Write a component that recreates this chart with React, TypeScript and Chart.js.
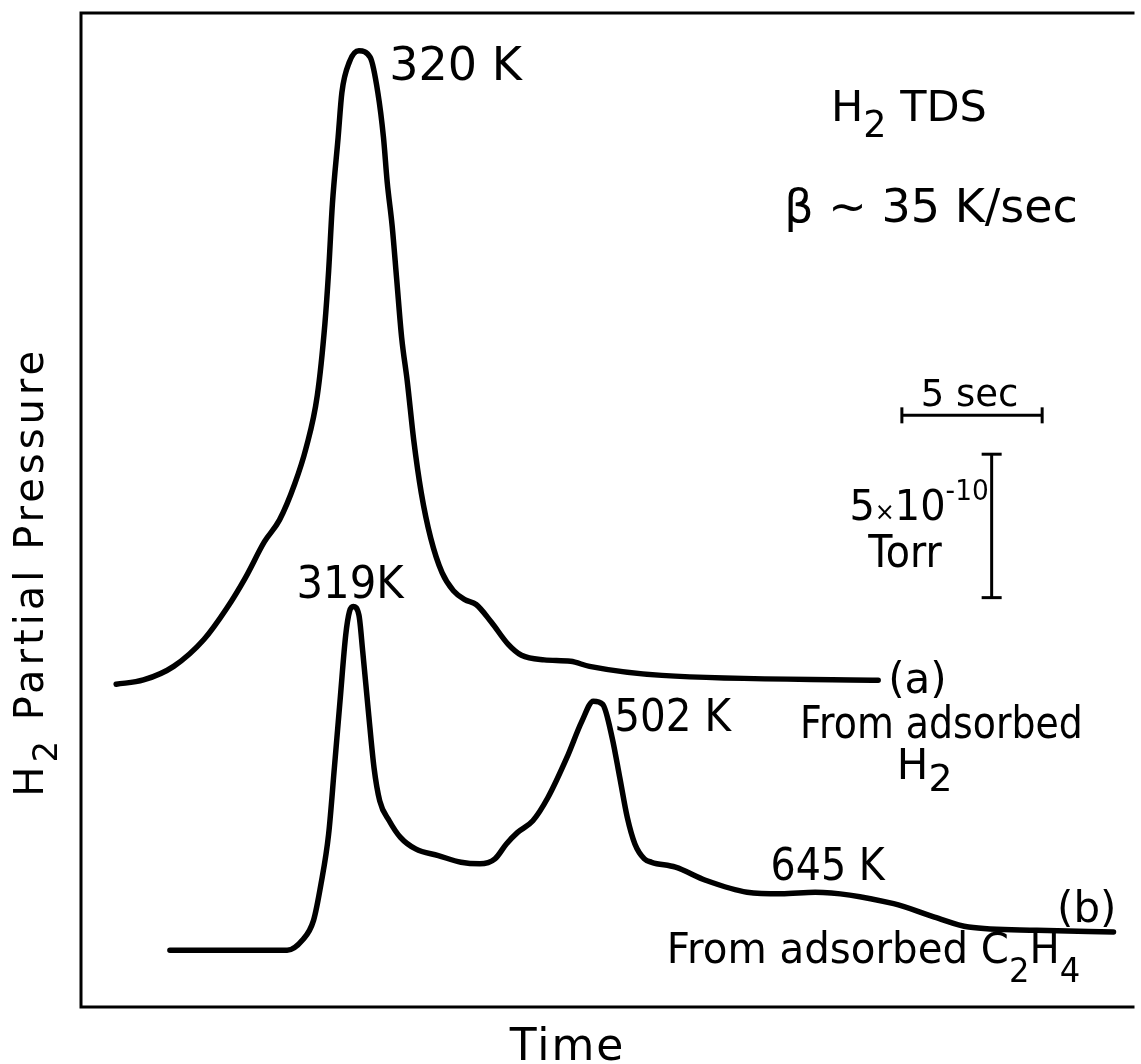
import { useEffect, useRef } from "react";
import { Chart, registerables } from "chart.js";

Chart.register(...registerables);

// Time axis in seconds, pressure in units of 1e-10 Torr
const timeA = [1.254, 2.225, 3.303, 4.38, 5.19, 5.863, 6.539, 7.077, 7.616, 8.021, 8.423, 8.694, 8.827, 8.961, 9.165, 9.299, 9.57, 9.905, 10.31, 10.581, 10.782, 10.915, 11.092, 11.254, 11.43, 11.63, 11.859, 12.13, 12.465, 12.87, 13.275, 13.68, 14.085, 14.623, 15.229, 15.701, 16.511, 17.451, 18.127, 20.704, 28.415];
const pressureA = [11.25, 11.4, 11.875, 12.81, 13.89, 14.97, 16.22, 16.98, 18.23, 19.48, 21.32, 23.82, 25.66, 27.99, 30.31, 31.875, 32.95, 33.33, 33.1, 31.875, 30.31, 28.75, 27.22, 25.35, 23.33, 21.81, 19.77, 17.92, 16.35, 15.14, 14.51, 14.2, 14.03, 13.42, 12.64, 12.26, 12.1, 12.05, 11.875, 11.56, 11.39];

const timeB = [3.169, 7.345, 7.887, 8.289, 8.556, 8.827, 9.032, 9.232, 9.437, 9.57, 9.704, 9.905, 10.042, 10.243, 10.444, 10.648, 10.986, 11.387, 11.926, 12.736, 13.546, 14.218, 14.754, 15.162, 15.563, 16.106, 16.644, 17.317, 17.856, 18.261, 18.599, 18.933, 19.204, 19.472, 19.743, 20.081, 20.342, 21.19, 22.285, 23.743, 24.958, 26.173, 28.968, 30.423, 31.641, 34.07, 36.803];
const pressureB = [1.979, 1.979, 2.326, 3.021, 4.295, 6.031, 8.344, 10.66, 12.976, 13.785, 13.958, 13.67, 12.396, 10.3125, 8.344, 7.1875, 6.493, 5.913, 5.51, 5.278, 5.045, 4.99, 5.163, 5.684, 6.087, 6.493, 7.302, 8.691, 9.965, 10.66, 10.545, 9.385, 7.997, 6.608, 5.684, 5.163, 5.045, 4.872, 4.41, 4.003, 3.948, 4.003, 3.601, 3.135, 2.788, 2.674, 2.615];

// scale bars: 5 sec and 5x10^-10 Torr
const timeBarX = [29.26, 34.26];
const timeBarY = [20.625, 20.625];
const pressureBarX = [32.46, 32.46];
const pressureBarY = [14.27, 19.27];

const xRange = [0, 37.32];
const yRange = [0, 34.65];

type Seg = { t: string; s?: number; dy?: number };
type Label = { x: number; y: number; size: number; segs: Seg[]; sx?: number; ls?: number; rot?: number; align?: "left" | "center" };

const labels: Label[] = [
  { x: 10.99, y: 32.33, size: 46, segs: [{ t: "320 K" }], sx: 1.0 },
  { x: 7.68, y: 14.24, size: 44, segs: [{ t: "319K" }], sx: 0.95 },
  { x: 26.73, y: 30.9, size: 43, segs: [{ t: "H" }, { t: "2", s: 0.85, dy: 0.38 }, { t: " TDS" }] },
  { x: 25.07, y: 27.36, size: 46, segs: [{ t: "β ∼ 35 K/sec" }], sx: 1.0 },
  { x: 29.93, y: 20.94, size: 37, segs: [{ t: "5 sec" }] },
  { x: 27.39, y: 16.98, size: 42, segs: [{ t: "5" }, { t: "×", s: 0.6 }, { t: "10" }, { t: "-10", s: 0.66, dy: -0.48 }], sx: 0.95 },
  { x: 28.06, y: 15.35, size: 44, segs: [{ t: "Torr" }], sx: 0.9 },
  { x: 28.77, y: 10.94, size: 42, segs: [{ t: "(a)" }] },
  { x: 19.01, y: 9.62, size: 44, segs: [{ t: "502 K" }], sx: 0.92 },
  { x: 25.63, y: 9.375, size: 44, segs: [{ t: "From adsorbed" }], sx: 0.86 },
  { x: 29.08, y: 7.95, size: 42, segs: [{ t: "H" }, { t: "2", s: 0.9, dy: 0.28 }] },
  { x: 24.58, y: 4.41, size: 44, segs: [{ t: "645 K" }], sx: 0.9 },
  { x: 34.79, y: 2.95, size: 42, segs: [{ t: "(b)" }] },
  { x: 20.88, y: 1.53, size: 42, segs: [{ t: "From adsorbed " }, { t: "C" }, { t: "2", s: 0.8, dy: 0.45 }, { t: "H" }, { t: "4", s: 0.8, dy: 0.45 }], sx: 0.96 },
  { x: 17.34, y: -1.84, size: 44, segs: [{ t: "Time" }], align: "center", ls: 2 },
  { x: -1.34, y: 15.17, size: 40, segs: [{ t: "H" }, { t: "2", s: 0.85, dy: 0.35 }, { t: " Partial Pressure" }], align: "center", rot: -Math.PI / 2, ls: 4 },
];

const FONT = '"DejaVu Sans"';

const framePlugin = {
  id: "frame",
  beforeDatasetsDraw(chart: any) {
    const { ctx, chartArea } = chart;
    ctx.save();
    ctx.strokeStyle = "#000";
    ctx.lineWidth = 3;
    ctx.lineCap = "square";
    ctx.beginPath();
    ctx.moveTo(chartArea.right + 5, chartArea.top);
    ctx.lineTo(chartArea.left, chartArea.top);
    ctx.lineTo(chartArea.left, chartArea.bottom);
    ctx.lineTo(chartArea.right + 5, chartArea.bottom);
    ctx.stroke();
    ctx.restore();
  },
};

const textPlugin = {
  id: "texts",
  afterDraw(chart: any) {
    const { ctx } = chart;
    const xs = chart.scales.x;
    const ys = chart.scales.y;
    for (const lb of labels) {
      const px = xs.getPixelForValue(lb.x);
      const py = ys.getPixelForValue(lb.y);
      ctx.save();
      ctx.fillStyle = "#000";
      ctx.textBaseline = "alphabetic";
      ctx.textAlign = "left";
      try {
        (ctx as any).letterSpacing = `${lb.ls || 0}px`;
      } catch (e) {}
      ctx.translate(px, py);
      if (lb.rot) ctx.rotate(lb.rot);
      ctx.scale(lb.sx || 1, 1);
      const widths = lb.segs.map((sg) => {
        ctx.font = `${lb.size * (sg.s || 1)}px ${FONT}`;
        return ctx.measureText(sg.t).width;
      });
      const total = widths.reduce((a, b) => a + b, 0);
      let cx = lb.align === "center" ? -total / 2 : 0;
      lb.segs.forEach((sg, i) => {
        ctx.font = `${lb.size * (sg.s || 1)}px ${FONT}`;
        ctx.fillText(sg.t, cx, (sg.dy || 0) * lb.size);
        cx += widths[i];
      });
      ctx.restore();
    }
  },
};

export default function App() {
  const ref = useRef<HTMLCanvasElement | null>(null);
  useEffect(() => {
    if (!ref.current) return;
    const curve = (xsArr: number[], ysArr: number[]) => xsArr.map((x, i) => ({ x, y: ysArr[i] }));
    const chart = new Chart(ref.current, {
      type: "scatter",
      data: {
        datasets: [
          {
            label: "(a) From adsorbed H2",
            data: curve(timeA, pressureA),
            showLine: true,
            borderColor: "#000",
            borderWidth: 5.5,
            pointRadius: 0,
            cubicInterpolationMode: "monotone",
            borderCapStyle: "round",
            borderJoinStyle: "round",
          } as any,
          {
            label: "(b) From adsorbed C2H4",
            data: curve(timeB, pressureB),
            showLine: true,
            borderColor: "#000",
            borderWidth: 5.5,
            pointRadius: 0,
            cubicInterpolationMode: "monotone",
            borderCapStyle: "round",
            borderJoinStyle: "round",
          } as any,
          {
            label: "5 sec",
            data: curve(timeBarX, timeBarY),
            showLine: true,
            borderColor: "#000",
            borderWidth: 3,
            pointStyle: "line",
            pointRadius: 8,
            pointRotation: 90,
            pointBorderWidth: 3,
            pointBorderColor: "#000",
          } as any,
          {
            label: "5x10^-10 Torr",
            data: curve(pressureBarX, pressureBarY),
            showLine: true,
            borderColor: "#000",
            borderWidth: 3,
            pointStyle: "line",
            pointRadius: 10,
            pointRotation: 0,
            pointBorderWidth: 3,
            pointBorderColor: "#000",
          } as any,
        ],
      },
      options: {
        animation: false,
        responsive: true,
        maintainAspectRatio: false,
        layout: { padding: { left: 81, top: 9, right: 0, bottom: 57 } },
        plugins: { legend: { display: false }, tooltip: { enabled: false } },
        events: [],
        scales: {
          x: { type: "linear", min: xRange[0], max: xRange[1], display: false },
          y: { type: "linear", min: yRange[0], max: yRange[1], display: false },
        },
      } as any,
      plugins: [framePlugin, textPlugin],
    });
    return () => chart.destroy();
  }, []);
  return (
    <div style={{ position: "absolute", left: 0, top: 0, width: 1141, height: 1064, background: "#fff" }}>
      <canvas ref={ref} />
    </div>
  );
}
